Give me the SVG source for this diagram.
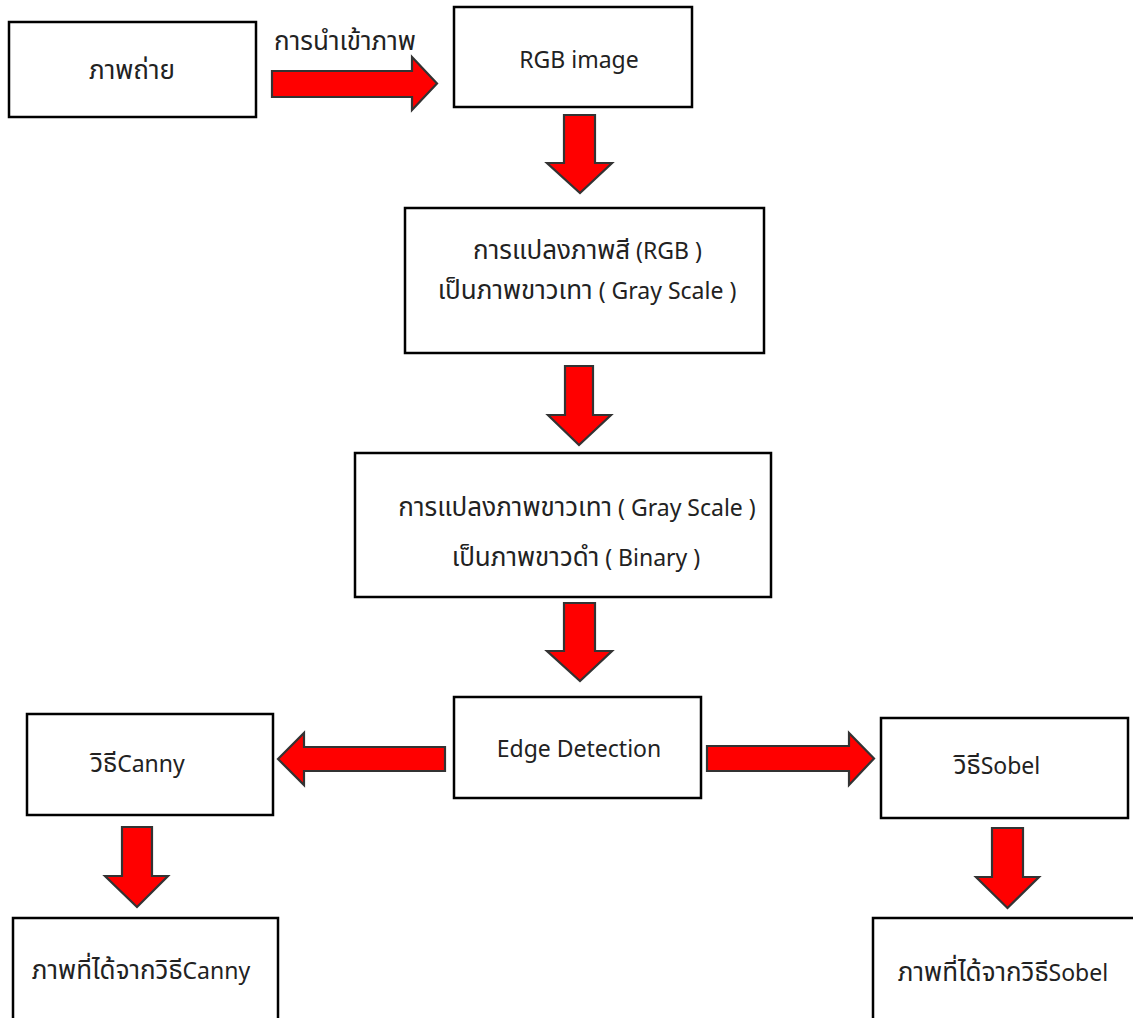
<svg xmlns="http://www.w3.org/2000/svg" width="1133" height="1018" viewBox="0 0 1133 1018">
<style>
.box{fill:#fff;stroke:#000;stroke-width:2.5}
.arr{fill:#ff0000;stroke:#333;stroke-width:2.2;stroke-linejoin:miter}
text{font-family:"Noto Sans","Noto Sans Thai","DejaVu Sans",sans-serif;font-size:23px;fill:#222;text-anchor:middle}
.th{font-size:26px}
</style>
<rect width="1133" height="1018" fill="#fff"/>
<g id="connectors">
<polygon class="arr" points="272,71 412,71 412,57 437,83.5 412,110 412,97 272,97"/>
<polygon class="arr" points="564,115 595,115 595,163 612,163 580,193 547,163 564,163"/>
<polygon class="arr" points="565,366 593,366 593,415 611,415 579,445 548,415 565,415"/>
<polygon class="arr" points="564,603 595,603 595,651 612,651 580,681 547,651 564,651"/>
<polygon class="arr" points="445,747 445,771 304,771 304,785 278,759 304,733 304,747"/>
<polygon class="arr" points="707,746 849,746 849,733 874,758.5 849,785 849,771 707,771"/>
<polygon class="arr" points="122,827 152,827 152,876 168,876 137,907 105,876 122,876"/>
<polygon class="arr" points="992,828 1023,828 1023,877 1039,877 1007.5,908 976,877 992,877"/>
<text x="345" y="50" class="th">การนำเข้าภาพ</text>
</g>
<g id="n1"><rect class="box" x="9" y="22" width="247" height="95"/><text x="132" y="79" class="th">ภาพถ่าย</text></g>
<g id="n2"><rect class="box" x="454" y="7" width="238" height="100"/><text x="579" y="68">RGB image</text></g>
<g id="n3"><rect class="box" x="405" y="208" width="359" height="145"/><text x="587.5" y="259"><tspan class="th">การแปลงภาพสี</tspan> (RGB )</text><text x="587" y="299"><tspan class="th">เป็นภาพขาวเทา</tspan> ( Gray Scale )</text></g>
<g id="n4"><rect class="box" x="355" y="453" width="416" height="144"/><text x="577" y="516"><tspan class="th">การแปลงภาพขาวเทา</tspan> ( Gray Scale )</text><text x="576" y="566"><tspan class="th">เป็นภาพขาวดำ</tspan> ( Binary )</text></g>
<g id="n5"><rect class="box" x="454" y="697" width="247" height="101"/><text x="579" y="757">Edge Detection</text></g>
<g id="n6"><rect class="box" x="27" y="714" width="246" height="101"/><text x="137.5" y="772"><tspan class="th">วิธี</tspan>Canny</text></g>
<g id="n7"><rect class="box" x="881" y="718" width="247" height="100"/><text x="997" y="774"><tspan class="th">วิธี</tspan>Sobel</text></g>
<g id="n8"><rect class="box" x="13" y="918" width="265" height="110"/><text x="141" y="979"><tspan class="th">ภาพที่ได้จากวิธี</tspan>Canny</text></g>
<g id="n9"><rect class="box" x="873" y="918" width="270" height="110"/><text x="1003" y="981"><tspan class="th">ภาพที่ได้จากวิธี</tspan>Sobel</text></g>
</svg>
